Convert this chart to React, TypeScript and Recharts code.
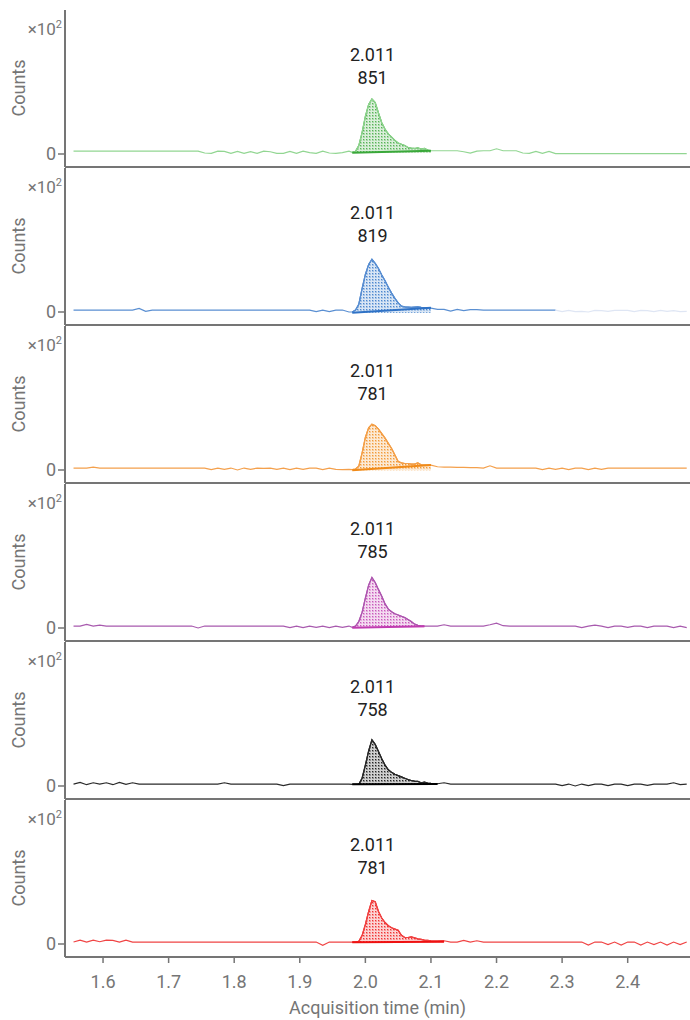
import { ComposedChart, Line, Area, XAxis, YAxis, ReferenceDot } from 'recharts';

// acquisition times (min): coarse on the baseline, finer across the peak
const times = [
  1.555, 1.565, 1.575, 1.585, 1.595, 1.605, 1.615, 1.625, 1.635, 1.645,
  1.655, 1.665, 1.675, 1.685, 1.695, 1.705, 1.715, 1.725, 1.735, 1.745,
  1.755, 1.765, 1.775, 1.785, 1.795, 1.805, 1.815, 1.825, 1.835, 1.845,
  1.855, 1.865, 1.875, 1.885, 1.895, 1.905, 1.915, 1.925, 1.935, 1.945,
  1.955, 1.965, 1.975,
  1.98, 1.985, 1.99, 1.995, 2.0, 2.005, 2.01, 2.015, 2.02, 2.025,
  2.03, 2.035, 2.04, 2.045, 2.05, 2.055, 2.06, 2.065, 2.07, 2.075,
  2.08, 2.085, 2.09, 2.095, 2.1,
  2.11, 2.12, 2.13, 2.14, 2.15, 2.16, 2.17, 2.18, 2.19, 2.2,
  2.21, 2.22, 2.23, 2.24, 2.25, 2.26, 2.27, 2.28, 2.29, 2.3,
  2.31, 2.32, 2.33, 2.34, 2.35, 2.36, 2.37, 2.38, 2.39, 2.4,
  2.41, 2.42, 2.43, 2.44, 2.45, 2.46, 2.47, 2.48, 2.49,
];

// counts (x10^2), one array per transition
const greenCounts = [
  0.45, 0.45, 0.45, 0.45, 0.45, 0.45, 0.45, 0.45, 0.45, 0.45,
  0.45, 0.45, 0.45, 0.45, 0.45, 0.45, 0.45, 0.45, 0.45, 0.45,
  0.15, 0.1, 0.45, 0.4, 0.1, 0.4, 0.1, 0.35, 0.1, 0.45,
  0.35, 0.1, 0.1, 0.4, 0.1, 0.45, 0.2, 0.1, 0.45, 0.15,
  0.1, 0.2, 0.45,
  0.25, 0.4, 1.3, 3.3, 5.8, 7.6, 8.45, 7.9, 6.3, 4.8,
  3.8, 3.1, 2.6, 2.1, 1.7, 1.5, 1.3, 1.0, 0.9, 0.85,
  0.95, 0.75, 0.85, 0.6, 0.5,
  0.5, 0.5, 0.5, 0.5, 0.35, 0.15, 0.45, 0.5, 0.5, 0.8,
  0.5, 0.5, 0.5, 0.15, 0.1, 0.4, 0.1, 0.4, 0.05, 0.05,
  0.05, 0.05, 0.05, 0.05, 0.05, 0.05, 0.05, 0.05, 0.05, 0.05,
  0.05, 0.05, 0.05, 0.05, 0.05, 0.05, 0.05, 0.05, 0.05,
];

const blueCounts = [
  0.3, 0.3, 0.3, 0.3, 0.3, 0.3, 0.3, 0.3, 0.3, 0.3,
  0.55, 0.1, 0.3, 0.3, 0.3, 0.3, 0.3, 0.3, 0.3, 0.3,
  0.3, 0.3, 0.3, 0.3, 0.3, 0.3, 0.3, 0.3, 0.3, 0.3,
  0.3, 0.3, 0.3, 0.3, 0.3, 0.3, 0.3, 0.05, 0.3, 0.05,
  0.3, 0.3, 0.0,
  0.0, 0.3, 1.2, 3.6, 5.8, 7.3, 8.1, 7.5, 6.7, 5.7,
  4.8, 3.8, 2.9, 2.1, 1.4, 0.9, 0.8, 0.75, 0.7, 0.75,
  0.8, 0.7, 0.65, 0.65, 0.6,
  0.4, 0.4, 0.15, 0.4, 0.2, 0.35, 0.35, 0.3, 0.3, 0.3,
  0.3, 0.3, 0.3, 0.3, 0.3, 0.3, 0.3, 0.3, 0.3, 0.05,
  0.25, 0.05, 0.1, 0.0, 0.25, 0.2, 0.1, 0.25, 0.25, 0.25,
  0.05, 0.25, 0.2, 0.05, 0.25, 0.1, 0.2, 0.05, 0.1,
];

const orangeCounts = [
  0.3, 0.3, 0.3, 0.45, 0.3, 0.3, 0.3, 0.3, 0.3, 0.3,
  0.3, 0.3, 0.3, 0.3, 0.3, 0.3, 0.3, 0.3, 0.3, 0.3,
  0.3, 0.05, 0.3, 0.1, 0.3, 0.0, 0.3, 0.1, 0.3, 0.25,
  0.3, 0.1, 0.3, 0.05, 0.3, 0.1, 0.3, 0.3, 0.05, 0.3,
  0.1, 0.05, 0.1,
  0.05, 0.15, 0.6, 2.6, 5.0, 6.5, 7.05, 6.8, 6.3, 5.6,
  4.9, 4.1, 3.3, 2.3, 1.3, 1.1, 1.0, 1.0, 0.9, 0.9,
  1.1, 0.8, 0.75, 0.75, 0.75,
  0.5, 0.45, 0.45, 0.4, 0.4, 0.35, 0.35, 0.3, 0.65, 0.3,
  0.3, 0.3, 0.3, 0.3, 0.3, 0.3, 0.05, 0.3, 0.1, 0.3,
  0.05, 0.3, 0.3, 0.05, 0.3, 0.1, 0.3, 0.3, 0.3, 0.3,
  0.3, 0.3, 0.3, 0.3, 0.3, 0.3, 0.3, 0.3, 0.3,
];

const purpleCounts = [
  0.3, 0.3, 0.55, 0.3, 0.45, 0.3, 0.3, 0.3, 0.3, 0.3,
  0.3, 0.3, 0.3, 0.3, 0.3, 0.3, 0.3, 0.3, 0.3, 0.0,
  0.3, 0.3, 0.3, 0.3, 0.3, 0.3, 0.3, 0.3, 0.3, 0.3,
  0.3, 0.3, 0.3, 0.05, 0.3, 0.05, 0.3, 0.1, 0.3, 0.05,
  0.3, 0.1, 0.3,
  0.1, 0.3, 1.0, 2.4, 4.6, 6.6, 7.75, 7.0, 5.9, 4.9,
  3.7, 2.9, 2.5, 2.2, 2.0, 1.8, 1.6, 1.3, 1.0, 0.6,
  0.4, 0.3, 0.3, 0.3, 0.3,
  0.3, 0.5, 0.3, 0.3, 0.3, 0.3, 0.3, 0.3, 0.5, 0.75,
  0.35, 0.3, 0.3, 0.3, 0.3, 0.3, 0.3, 0.3, 0.3, 0.3,
  0.3, 0.3, 0.05, 0.3, 0.45, 0.3, 0.05, 0.3, 0.3, 0.1,
  0.3, 0.3, 0.05, 0.3, 0.3, 0.3, 0.05, 0.3, 0.05,
];

const blackCounts = [
  0.3, 0.55, 0.2, 0.5, 0.3, 0.5, 0.2, 0.55, 0.25, 0.5,
  0.3, 0.3, 0.3, 0.3, 0.3, 0.3, 0.3, 0.3, 0.3, 0.3,
  0.3, 0.3, 0.3, 0.5, 0.3, 0.3, 0.3, 0.3, 0.3, 0.3,
  0.3, 0.3, 0.05, 0.3, 0.3, 0.3, 0.3, 0.3, 0.3, 0.3,
  0.3, 0.3, 0.3,
  0.25, 0.25, 0.25, 1.2, 3.2, 5.4, 7.1, 6.4, 5.3, 4.2,
  3.2, 2.5, 2.1, 1.8, 1.6, 1.4, 1.2, 1.0, 0.85, 0.75,
  0.7, 0.5, 0.6, 0.45, 0.4,
  0.35, 0.5, 0.3, 0.3, 0.3, 0.3, 0.3, 0.3, 0.3, 0.3,
  0.3, 0.3, 0.3, 0.3, 0.3, 0.3, 0.3, 0.3, 0.3, 0.05,
  0.3, 0.0, 0.3, 0.05, 0.3, 0.3, 0.05, 0.3, 0.3, 0.05,
  0.3, 0.3, 0.1, 0.3, 0.3, 0.3, 0.5, 0.2, 0.3,
];

const redCounts = [
  0.3, 0.6, 0.3, 0.6, 0.35, 0.6, 0.55, 0.3, 0.6, 0.3,
  0.3, 0.3, 0.3, 0.3, 0.3, 0.3, 0.3, 0.3, 0.3, 0.3,
  0.3, 0.3, 0.3, 0.3, 0.3, 0.3, 0.3, 0.3, 0.3, 0.3,
  0.3, 0.3, 0.3, 0.3, 0.3, 0.3, 0.3, 0.3, -0.2, 0.3,
  0.3, 0.3, 0.3,
  0.3, 0.3, 0.4, 1.3, 3.0, 5.0, 6.7, 6.5, 5.0, 4.0,
  3.3, 2.8, 2.5, 2.3, 2.1, 1.35, 1.0, 1.0, 1.1, 0.95,
  0.8, 0.7, 0.6, 0.55, 0.5,
  0.45, 0.5, 0.3, 0.3, 0.55, 0.3, 0.5, 0.3, 0.3, 0.3,
  0.3, 0.3, 0.3, 0.3, 0.3, 0.3, 0.3, 0.3, 0.3, 0.3,
  0.3, 0.3, 0.3, -0.15, 0.3, 0.3, -0.1, 0.3, -0.15, 0.3,
  0.3, -0.15, 0.3, -0.1, 0.3, -0.15, 0.3, -0.1, 0.3,
];

const signals = [greenCounts, blueCounts, orangeCounts, purpleCounts, blackCounts, redCounts];
const peakRT = ['2.011', '2.011', '2.011', '2.011', '2.011', '2.011'];
const peakArea = ['851', '819', '781', '785', '758', '781'];
// integration window and baseline end points
const peakFrom = [1.98, 1.98, 1.98, 1.98, 1.98, 1.98];
const peakTo = [2.1, 2.1, 2.1, 2.09, 2.11, 2.12];
const baseStart = [0.2, -0.1, -0.05, 0.05, 0.25, 0.25];
const baseEnd = [0.5, 0.65, 0.75, 0.25, 0.3, 0.35];
const fadeFrom: (number | null)[] = [null, 2.29, null, null, null, null];
const xTicks = [1.6, 1.7, 1.8, 1.9, 2.0, 2.1, 2.2, 2.3, 2.4];

const lineColors = ['#92d692', '#5a8fd2', '#f4a04c', '#a85aae', '#2a2a2a', '#f04444'];
const peakColors = ['#3aa83a', '#2f72c6', '#f08a18', '#c03cb0', '#000000', '#ee1111'];
const fadeColor = '#dfe6f4';
const AXIS = '#757575';
const FONT = 'Roboto, "Noto Sans", sans-serif';

const W = 690;
const PANEL_H = 158;
const X_AXIS_H = 63;
const LABEL_Y = 11.7;

function buildRows(i: number) {
  const sig = signals[i];
  const fade = fadeFrom[i];
  return times.map((t, k) => ({
    t,
    sig: fade == null || t <= fade ? sig[k] : null,
    faint: fade != null && t >= fade ? sig[k] : null,
    pk: t >= peakFrom[i] && t <= peakTo[i] ? sig[k] : null,
    ib: t === peakFrom[i] ? baseStart[i] : t === peakTo[i] ? baseEnd[i] : null,
  }));
}

const YTitle = (p: any) => {
  const x0 = p.viewBox.x;
  const y0 = p.viewBox.y;
  return (
    <g fontFamily={FONT} fill={AXIS}>
      <text x={x0 + 62} y={y0 + 25} textAnchor="end" fontSize={17}>
        ×10<tspan dy={-7} fontSize={11}>2</tspan>
      </text>
      <text transform={`translate(${x0 + 25}, ${y0 + 78}) rotate(-90)`} textAnchor="middle" fontSize={18}>
        Counts
      </text>
    </g>
  );
};

function Panel({ i }: { i: number }) {
  const last = i === signals.length - 1;
  const rows = buildRows(i);
  const h = last ? PANEL_H - 1 + X_AXIS_H : PANEL_H;
  return (
    <ComposedChart
      width={W}
      height={h}
      data={rows}
      margin={{ top: 0, right: 0, bottom: 0, left: 0 }}
    >
      <XAxis
        dataKey="t"
        type="number"
        domain={[1.542, 2.495]}
        allowDataOverflow
        ticks={xTicks}
        height={last ? X_AXIS_H : 1}
        tick={last ? { fill: AXIS, fontSize: 18, fontFamily: FONT } : false}
        tickLine={last ? { stroke: AXIS, strokeWidth: 1.5 } : false}
        tickSize={6}
        tickMargin={12}
        tickFormatter={(v: number) => v.toFixed(1)}
        axisLine={{ stroke: AXIS, strokeWidth: 2 }}
        label={
          last
            ? { value: 'Acquisition time (min)', position: 'insideBottom', offset: 6, fill: AXIS, fontSize: 18, fontFamily: FONT }
            : undefined
        }
      />
      <YAxis
        type="number"
        domain={[-2, 22.15]}
        allowDataOverflow
        ticks={[0]}
        width={65}
        tickSize={7}
        tickMargin={2}
        tick={{ fill: AXIS, fontSize: 18, fontFamily: FONT }}
        tickLine={{ stroke: AXIS, strokeWidth: 1.5 }}
        axisLine={{ stroke: AXIS, strokeWidth: 2 }}
        label={YTitle}
      />
      <Line dataKey="sig" type="linear" stroke={lineColors[i]} strokeWidth={1.2} dot={false} activeDot={false} isAnimationActive={false} />
      <Line dataKey="faint" type="linear" stroke={fadeColor} strokeWidth={1.2} dot={false} activeDot={false} isAnimationActive={false} />
      <Area
        dataKey="pk"
        type="linear"
        baseValue={baseStart[i]}
        stroke={peakColors[i]}
        strokeWidth={1.2}
        fill={`url(#dots-${i})`}
        fillOpacity={1}
        dot={false}
        activeDot={false}
        isAnimationActive={false}
      />
      <Line dataKey="ib" type="linear" connectNulls stroke={peakColors[i]} strokeWidth={2} dot={false} activeDot={false} isAnimationActive={false} />
      <ReferenceDot
        x={2.011}
        y={LABEL_Y}
        r={1}
        fill="none"
        stroke="none"
        label={(p: any) => {
          const cx = p.viewBox.x + p.viewBox.width / 2;
          const cy = p.viewBox.y + p.viewBox.height / 2;
          return (
            <g fontFamily={FONT} fontSize={18} fill="#222" textAnchor="middle">
              <text x={cx} y={cy - 17}>{peakRT[i]}</text>
              <text x={cx} y={cy + 6}>{peakArea[i]}</text>
            </g>
          );
        }}
      />
    </ComposedChart>
  );
}

export default function App() {
  return (
    <div style={{ position: 'absolute', left: 0, top: 0, width: W, height: 1020, background: '#fff', fontFamily: FONT }}>
      <svg width={0} height={0} style={{ position: 'absolute' }}>
        <defs>
          {peakColors.map((c, i) => (
            <pattern key={i} id={`dots-${i}`} width={3} height={3} patternUnits="userSpaceOnUse">
              <rect width={3} height={3} fill="#fff" />
              <rect width={3} height={3} fill={c} fillOpacity={0.18} />
              <rect width={2} height={2} fill={c} fillOpacity={0.3} />
              <rect width={1} height={1} fill={c} fillOpacity={0.75} />
            </pattern>
          ))}
        </defs>
      </svg>
      <div style={{ position: 'absolute', left: 0, top: 10 }}>
        {signals.map((_, i) => (
          <div key={i} style={{ height: PANEL_H }}>
            <Panel i={i} />
          </div>
        ))}
      </div>
    </div>
  );
}
